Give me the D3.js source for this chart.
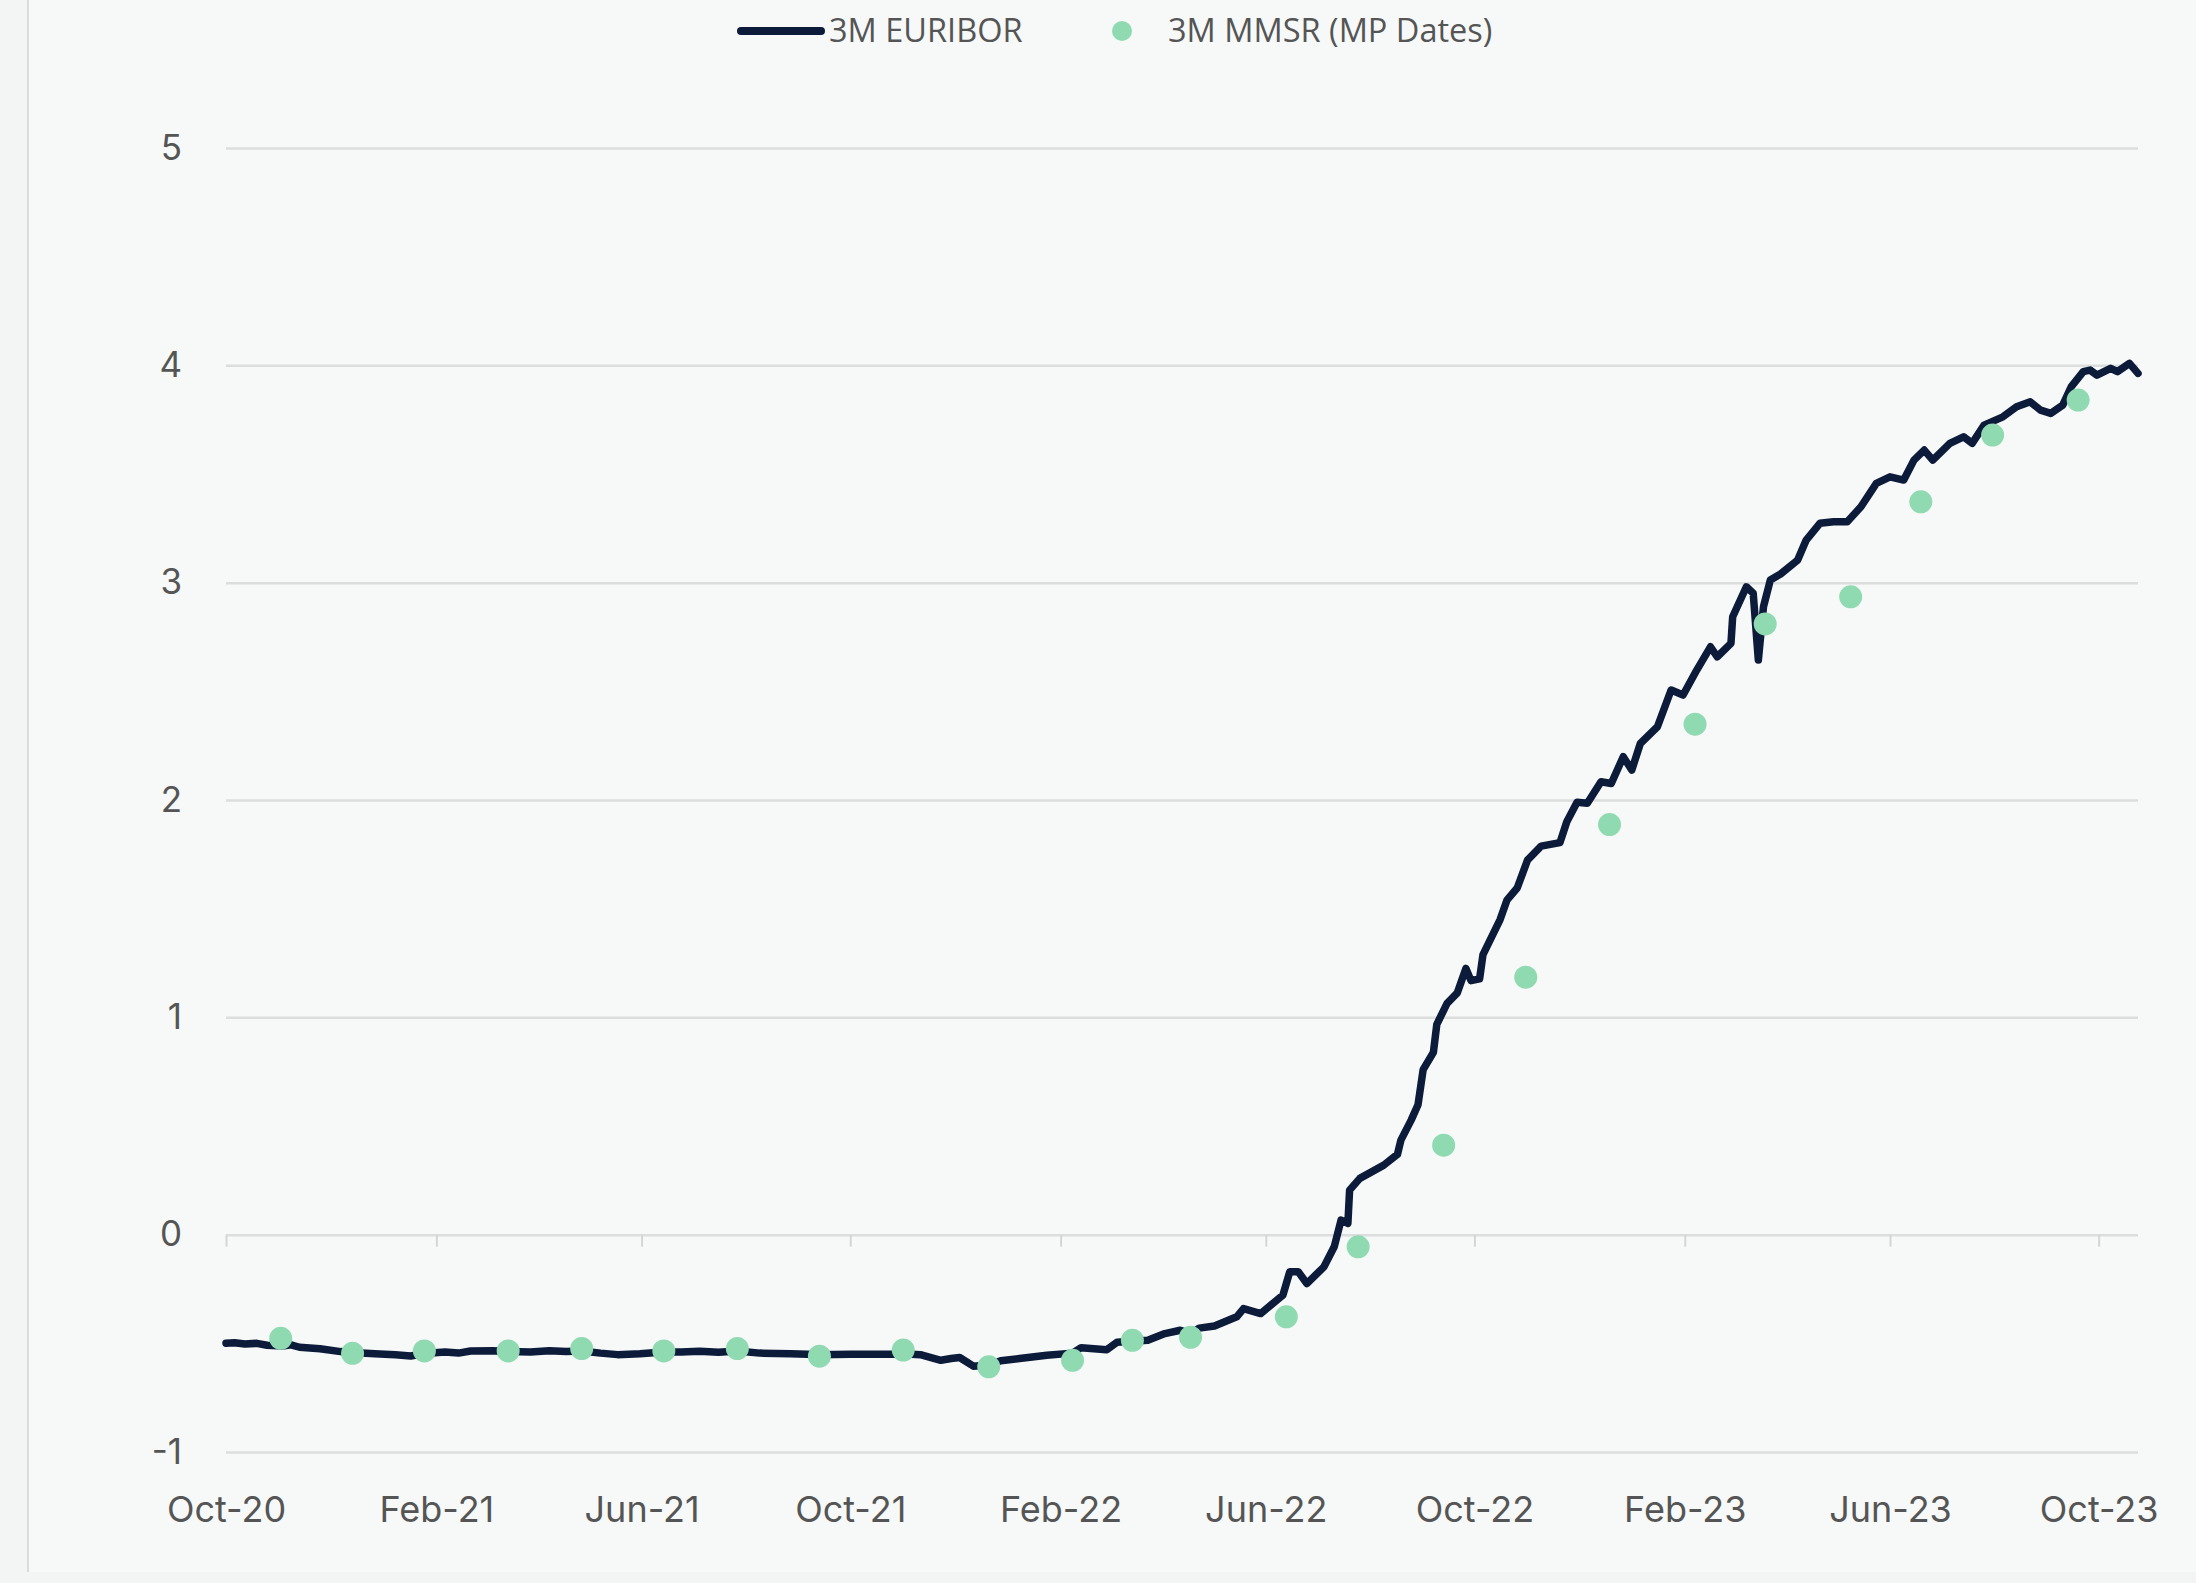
<!DOCTYPE html>
<html>
<head>
<meta charset="utf-8">
<script src="https://cdn.jsdelivr.net/npm/d3@7"></script>
<style>
  html, body { margin: 0; padding: 0; background: #f3f5f5; }
  svg { display: block; }
</style>
</head>
<body>
<script>
// 3M EURIBOR (date, %)
const euribor = [
  ["2020-10-01", -0.500], ["2020-10-06", -0.497], ["2020-10-12", -0.503], ["2020-10-19", -0.500],
  ["2020-10-25", -0.509], ["2020-11-03", -0.512], ["2020-11-08", -0.507],
  ["2020-11-13", -0.518], ["2020-11-25", -0.525], ["2020-12-07", -0.538], ["2020-12-14", -0.542],
  ["2020-12-27", -0.548], ["2021-01-08", -0.553], ["2021-01-17", -0.558], ["2021-01-25", -0.547],
  ["2021-02-06", -0.540], ["2021-02-14", -0.545], ["2021-02-21", -0.535], ["2021-03-06", -0.534], ["2021-03-15", -0.538],
  ["2021-03-28", -0.540], ["2021-04-08", -0.534], ["2021-04-18", -0.538], ["2021-04-27", -0.535], ["2021-05-08", -0.545],
  ["2021-05-18", -0.552], ["2021-05-31", -0.548], ["2021-06-14", -0.540], ["2021-06-24", -0.540],
  ["2021-07-05", -0.536], ["2021-07-16", -0.541], ["2021-07-27", -0.535], ["2021-08-09", -0.545], ["2021-08-27", -0.548],
  ["2021-09-06", -0.550], ["2021-09-13", -0.552], ["2021-10-01", -0.550], ["2021-10-19", -0.550],
  ["2021-10-26", -0.550], ["2021-11-01", -0.548], ["2021-11-11", -0.552], ["2021-11-23", -0.578],
  ["2021-11-29", -0.570], ["2021-12-04", -0.565], ["2021-12-12", -0.605], ["2021-12-21", -0.600],
  ["2021-12-28", -0.580], ["2022-01-08", -0.570], ["2022-01-24", -0.555], ["2022-02-08", -0.545],
  ["2022-02-13", -0.520], ["2022-02-28", -0.530], ["2022-03-06", -0.495], ["2022-03-15", -0.490],
  ["2022-03-24", -0.486], ["2022-04-03", -0.455], ["2022-04-12", -0.440], ["2022-04-18", -0.455],
  ["2022-04-23", -0.430], ["2022-05-02", -0.420], ["2022-05-15", -0.378], ["2022-05-19", -0.340],
  ["2022-05-29", -0.363], ["2022-06-11", -0.278], ["2022-06-15", -0.171], ["2022-06-20", -0.171],
  ["2022-06-25", -0.225], ["2022-07-05", -0.148], ["2022-07-11", -0.056], ["2022-07-15", 0.067],
  ["2022-07-19", 0.052], ["2022-07-20", 0.205], ["2022-07-26", 0.259], ["2022-08-09", 0.320],
  ["2022-08-17", 0.370], ["2022-08-19", 0.435], ["2022-08-25", 0.527], ["2022-08-29", 0.598],
  ["2022-09-01", 0.759], ["2022-09-07", 0.839], ["2022-09-09", 0.968], ["2022-09-15", 1.064],
  ["2022-09-21", 1.113], ["2022-09-26", 1.225], ["2022-09-29", 1.169], ["2022-10-04", 1.177],
  ["2022-10-06", 1.289], ["2022-10-16", 1.450], ["2022-10-20", 1.539], ["2022-10-26", 1.595],
  ["2022-11-01", 1.723], ["2022-11-09", 1.788], ["2022-11-20", 1.804], ["2022-11-24", 1.900],
  ["2022-11-30", 1.990], ["2022-12-06", 1.985], ["2022-12-14", 2.084], ["2022-12-20", 2.076],
  ["2022-12-27", 2.199], ["2023-01-01", 2.138], ["2023-01-06", 2.260], ["2023-01-16", 2.337],
  ["2023-01-24", 2.506], ["2023-01-31", 2.483], ["2023-02-08", 2.598], ["2023-02-16", 2.705],
  ["2023-02-20", 2.659], ["2023-02-28", 2.721], ["2023-03-01", 2.843], ["2023-03-09", 2.981],
  ["2023-03-13", 2.951], ["2023-03-16", 2.644], ["2023-03-19", 2.889], ["2023-03-23", 3.012],
  ["2023-03-29", 3.040], ["2023-04-08", 3.104], ["2023-04-13", 3.196], ["2023-04-21", 3.273],
  ["2023-04-29", 3.280], ["2023-05-07", 3.280], ["2023-05-15", 3.349], ["2023-05-24", 3.457],
  ["2023-06-01", 3.487], ["2023-06-09", 3.472], ["2023-06-15", 3.564], ["2023-06-21", 3.610],
  ["2023-06-26", 3.564], ["2023-07-06", 3.641], ["2023-07-14", 3.671], ["2023-07-19", 3.641],
  ["2023-07-26", 3.725], ["2023-08-06", 3.763], ["2023-08-14", 3.809], ["2023-08-22", 3.832],
  ["2023-08-28", 3.794], ["2023-09-03", 3.779], ["2023-09-10", 3.817], ["2023-09-15", 3.902],
  ["2023-09-22", 3.971], ["2023-09-26", 3.978], ["2023-09-30", 3.955], ["2023-10-08", 3.986],
  ["2023-10-12", 3.971], ["2023-10-19", 4.009], ["2023-10-24", 3.963]
];

// 3M MMSR on monetary policy dates
const mmsr = [
  ["2020-11-02", -0.477], ["2020-12-14", -0.546], ["2021-01-25", -0.535], ["2021-03-15", -0.535],
  ["2021-04-27", -0.524], ["2021-06-14", -0.535], ["2021-07-27", -0.524], ["2021-09-13", -0.559],
  ["2021-11-01", -0.531], ["2021-12-21", -0.608], ["2022-02-08", -0.578], ["2022-03-15", -0.486],
  ["2022-04-18", -0.472], ["2022-06-13", -0.378], ["2022-07-25", -0.056], ["2022-09-13", 0.412],
  ["2022-10-31", 1.185], ["2022-12-19", 1.887], ["2023-02-07", 2.349], ["2023-03-20", 2.810],
  ["2023-05-09", 2.935], ["2023-06-19", 3.372], ["2023-07-31", 3.679], ["2023-09-19", 3.840]
];

const yTicks = [-1, 0, 1, 2, 3, 4, 5];
const xTickDates = ["2020-10-01", "2021-02-01", "2021-06-01", "2021-10-01", "2022-02-01",
                    "2022-06-01", "2022-10-01", "2023-02-01", "2023-06-01", "2023-10-01"];
const seriesNames = ["3M EURIBOR", "3M MMSR (MP Dates)"];

const width = 2196, height = 1583;
const parse = d3.timeParse("%Y-%m-%d");

const svg = d3.select("body").append("svg")
  .attr("width", width)
  .attr("height", height);

// panel
svg.append("rect")
  .attr("x", 28).attr("y", 0)
  .attr("width", width - 28).attr("height", 1572)
  .attr("fill", "#f7f9f9");
svg.append("line")
  .attr("x1", 28).attr("x2", 28).attr("y1", 0).attr("y2", 1572)
  .attr("stroke", "#d9dcdc").attr("stroke-width", 2);

const x = d3.scaleTime()
  .domain([parse("2020-10-01"), parse("2023-10-24")])
  .range([226, 2138]);
const y = d3.scaleLinear().domain([-1, 5]).range([1452, 148]);

const fontAxis = "Inter, 'Noto Sans', sans-serif";

// horizontal grid + y labels (plain hyphen for negatives, as in the source)
const yAxis = svg.append("g")
  .attr("transform", "translate(226,0)")
  .call(d3.axisLeft(y).tickValues(yTicks).tickSize(-(2138 - 226)).tickPadding(44).tickFormat(d => String(d)))
  .call(g => g.select(".domain").remove());
yAxis.selectAll(".tick line").attr("stroke", "#dcdede").attr("stroke-width", 2.5);
yAxis.selectAll(".tick text")
  .attr("fill", "#555")
  .attr("font-family", fontAxis)
  .attr("font-size", 35);

// x ticks hanging from the zero line
const xTickG = svg.append("g")
  .attr("transform", `translate(0,${y(0)})`)
  .call(d3.axisBottom(x).tickValues(xTickDates.map(parse)).tickSize(12).tickFormat(""))
  .call(g => g.select(".domain").remove());
xTickG.selectAll(".tick line").attr("stroke", "#d4d6d6").attr("stroke-width", 2);

// x labels at the bottom
const xLab = svg.append("g")
  .attr("transform", `translate(0,${y(-1)})`)
  .call(d3.axisBottom(x).tickValues(xTickDates.map(parse)).tickSize(0).tickPadding(44)
    .tickFormat(d3.timeFormat("%b-%y")))
  .call(g => g.select(".domain").remove());
xLab.selectAll(".tick text")
  .attr("fill", "#555")
  .attr("font-family", fontAxis)
  .attr("font-size", 36);

// EURIBOR line
const line = d3.line()
  .x(d => x(parse(d[0])))
  .y(d => y(d[1]));

svg.append("path")
  .datum(euribor)
  .attr("fill", "none")
  .attr("stroke", "#0c1b3a")
  .attr("stroke-width", 7.5)
  .attr("stroke-linejoin", "round")
  .attr("stroke-linecap", "round")
  .attr("d", line);

// MMSR dots
svg.append("g")
  .selectAll("circle")
  .data(mmsr)
  .join("circle")
  .attr("cx", d => x(parse(d[0])))
  .attr("cy", d => y(d[1]))
  .attr("r", 11.5)
  .attr("fill", "#8fdab1");

// legend
const lg = svg.append("g").attr("font-family", "'Open Sans', sans-serif").attr("font-size", 32.5).attr("fill", "#555");
lg.append("line")
  .attr("x1", 741).attr("x2", 821).attr("y1", 31).attr("y2", 31)
  .attr("stroke", "#0c1b3a").attr("stroke-width", 8).attr("stroke-linecap", "round");
lg.append("text").attr("x", 829).attr("y", 42).text(seriesNames[0]);
lg.append("circle").attr("cx", 1122).attr("cy", 31).attr("r", 10).attr("fill", "#8fdab1");
lg.append("text").attr("x", 1168).attr("y", 42).text(seriesNames[1]);
</script>
</body>
</html>
